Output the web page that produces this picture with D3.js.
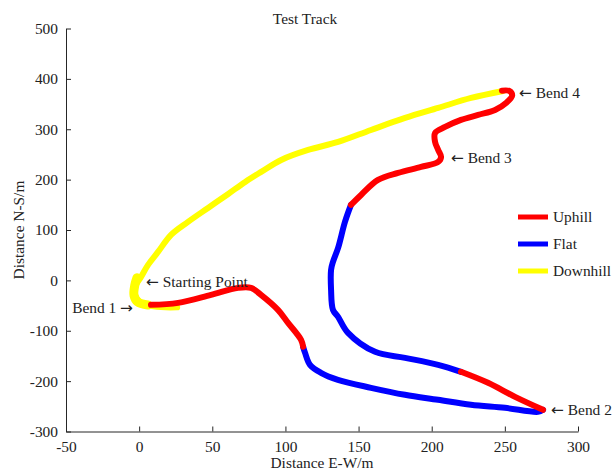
<!DOCTYPE html>
<html>
<head>
<meta charset="utf-8">
<script src="https://cdn.jsdelivr.net/npm/d3@7"></script>
<style>
  body { margin: 0; background: #fff; }
  text { font-family: "Liberation Serif", "Times New Roman", serif; fill: #222; }
</style>
</head>
<body>
<svg width="615" height="472"></svg>
<script>
// axis ticks
var xTicks = [-50, 0, 50, 100, 150, 200, 250, 300];
var yTicks = [-300, -200, -100, 0, 100, 200, 300, 400, 500];

// track pieces, [E-W, N-S] in metres
var downhillBack = [
  [248.8, 376.0], [226.9, 362.1], [204.4, 342.3], [181.8, 322.4], [158.5, 298.6],
  [136.0, 274.8], [115.5, 258.9], [97.1, 239.1], [83.4, 215.3], [72.5, 195.4],
  [60.9, 171.6], [47.1, 143.8], [33.4, 116.1], [21.8, 90.3], [12.9, 56.5],
  [6.1, 30.8], [1.3, 6.9], [-2.1, -8.9], [-2.8, -28.8], [1.3, -44.6],
  [8.1, -50.5], [18, -53.5], [26, -53.5]
];
// the thick yellow blob around the start / bend 1
var startBlob = [
  [-1.5, 5], [-3.0, -10], [-3.5, -30], [-1.0, -43], [6, -49]
];
var uphill1 = [
  [8.1, -48.6], [26.6, -44.6], [49.1, -28.8], [67.6, -14.9], [76.5, -14.9],
  [83.3, -28.8], [94.9, -58.5], [101.8, -84.3], [110.7, -118.1], [112.1, -131.9]
];
var flat1 = [
  [112.1, -131.9], [113.4, -143.8], [116.8, -167.6], [124.3, -183.5], [135.9, -197.4],
  [158.5, -213.3], [181.7, -227.2], [204.3, -237.1], [226.8, -247.0], [250.1, -253.0],
  [272.6, -260.9], [276.1, -256.9]
];
var uphill2 = [
  [276.1, -256.9], [257.0, -231.2], [238.5, -203.4], [220.0, -181.5]
];
var flat2 = [
  [220.0, -181.5], [204.4, -167.7], [181.8, -153.8], [161.3, -141.9], [142.8, -104.2],
  [136.0, -72.4], [132.5, -58.5], [131.2, -18.8], [131.2, 20.8], [132.5, 36.7],
  [136.0, 64.5], [140.7, 116.1], [144.8, 149.8]
];
var uphill3 = [
  [144.8, 149.8], [151.7, 169.6], [163.3, 199.4], [177.0, 213.3], [192.7, 225.2],
  [204.4, 235.1], [206.4, 245.0], [204.4, 258.9], [202.3, 274.8], [202.3, 292.7],
  [209.1, 304.6], [220.0, 318.5], [231.7, 328.4], [243.3, 338.3], [250.8, 352.2],
  [255.0, 367.0], [253.0, 376.0], [248.0, 376.5]
];

var pieces = [
  { kind: "Downhill", pts: downhillBack, w: 6 },
  { kind: "Downhill", pts: startBlob, w: 9 },
  { kind: "Flat", pts: flat1, w: 6 },
  { kind: "Flat", pts: flat2, w: 6 },
  { kind: "Uphill", pts: uphill1, w: 6 },
  { kind: "Uphill", pts: uphill2, w: 6 },
  { kind: "Uphill", pts: uphill3, w: 6 }
];

var kinds = ["Uphill", "Flat", "Downhill"];
var kindColors = ["#ff0000", "#0000ff", "#ffff00"];

// arrow side: "left" means "← label", "right" means "label →"
var notes = [
  { text: "Bend 4", x: 259.7, y: 373, arrow: "left" },
  { text: "Bend 3", x: 213.2, y: 243, arrow: "left" },
  { text: "Starting Point", x: 4.7, y: -3, arrow: "left" },
  { text: "Bend 1", x: -4.2, y: -55, arrow: "right" },
  { text: "Bend 2", x: 281.6, y: -257, arrow: "left" }
];

var fs = 15.4;
var svg = d3.select("svg");

var x = d3.scaleLinear().domain([-50, 300]).range([66, 578]);
var y = d3.scaleLinear().domain([-300, 500]).range([431.5, 28.5]);
var color = d3.scaleOrdinal().domain(kinds).range(kindColors);

// axes, ticks pointing inward like matlab
var xAxis = svg.append("g")
    .attr("transform", "translate(0," + y(-300) + ")")
    .call(d3.axisBottom(x).tickValues(xTicks).tickFormat(String)
        .tickSizeInner(-5).tickSizeOuter(0).tickPadding(10));
var yAxis = svg.append("g")
    .attr("transform", "translate(" + x(-50) + ",0)")
    .call(d3.axisLeft(y).tickValues(yTicks).tickFormat(String)
        .tickSizeInner(-5).tickSizeOuter(0).tickPadding(8));

[xAxis, yAxis].forEach(function (g) {
    g.select(".domain").attr("stroke", "#262626").attr("stroke-width", 1);
    g.selectAll(".tick line").attr("stroke", "#262626");
    g.selectAll(".tick text")
        .attr("font-family", "Liberation Serif")
        .attr("font-size", fs)
        .attr("fill", "#222");
});

var line = d3.line()
    .x(function (d) { return x(d[0]); })
    .y(function (d) { return y(d[1]); })
    .curve(d3.curveCatmullRom);

svg.append("g")
    .selectAll("path")
    .data(pieces)
    .enter().append("path")
    .attr("d", function (d) { return line(d.pts); })
    .attr("fill", "none")
    .attr("stroke", function (d) { return color(d.kind); })
    .attr("stroke-width", function (d) { return d.w; })
    .attr("stroke-linecap", "round")
    .attr("stroke-linejoin", "round");

// annotations
var note = svg.append("g")
    .selectAll("text")
    .data(notes)
    .enter().append("text")
    .attr("x", function (d) { return x(d.x); })
    .attr("y", function (d) { return y(d.y); })
    .attr("dy", "0.35em")
    .attr("text-anchor", function (d) { return d.arrow == "left" ? "start" : "end"; })
    .attr("font-size", fs);

note.each(function (d) {
    var t = d3.select(this);
    if (d.arrow == "left") {
        t.append("tspan").attr("font-family", "DejaVu Sans").text("\u2190");
        t.append("tspan").text(" " + d.text);
    } else {
        t.append("tspan").text(d.text + " ");
        t.append("tspan").attr("font-family", "DejaVu Sans").text("\u2192");
    }
});

// legend
var legend = svg.append("g")
    .selectAll("g")
    .data(kinds)
    .enter().append("g")
    .attr("transform", function (d, i) { return "translate(518," + (217 + i * 27) + ")"; });
legend.append("line")
    .attr("x1", 0).attr("x2", 30)
    .attr("stroke", function (d) { return color(d); })
    .attr("stroke-width", 5);
legend.append("text")
    .attr("x", 35)
    .attr("dy", "0.35em")
    .attr("font-size", fs)
    .text(function (d) { return d; });

// titles
svg.append("text")
    .attr("x", 305).attr("y", 23.5)
    .attr("text-anchor", "middle")
    .attr("font-size", fs)
    .text("Test Track");
svg.append("text")
    .attr("x", 322).attr("y", 468)
    .attr("text-anchor", "middle")
    .attr("font-size", fs)
    .text("Distance E-W/m");
svg.append("text")
    .attr("transform", "translate(23.5,230) rotate(-90)")
    .attr("text-anchor", "middle")
    .attr("font-size", fs)
    .text("Distance N-S/m");
</script>
</body>
</html>
